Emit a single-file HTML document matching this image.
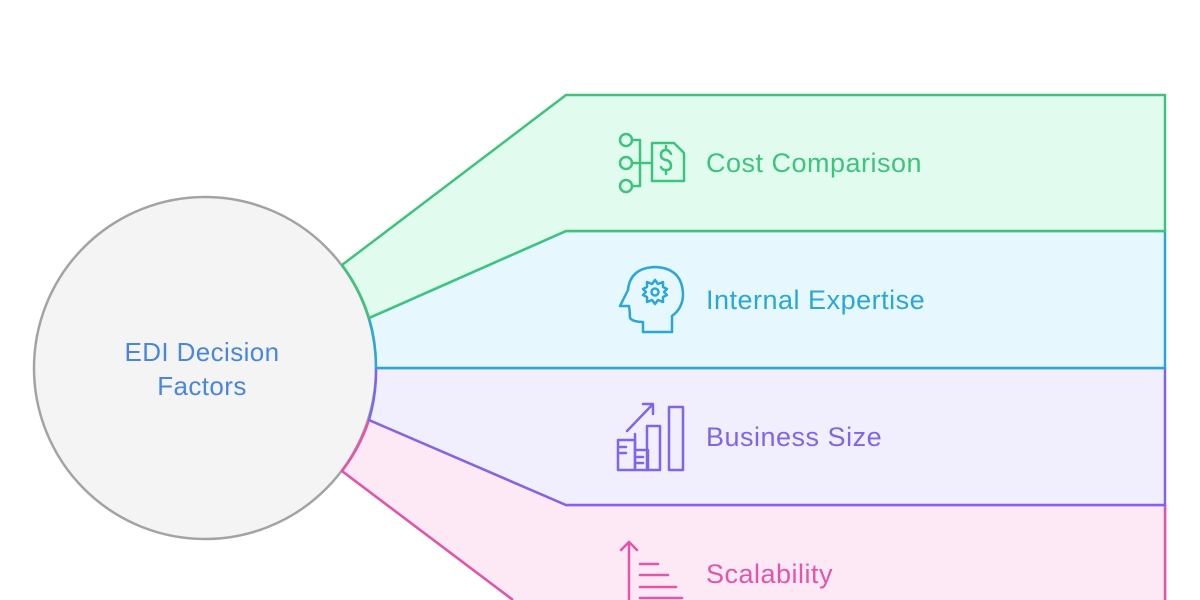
<!DOCTYPE html>
<html><head><meta charset="utf-8"><style>
html,body{margin:0;padding:0;background:#fff;width:1200px;height:600px;overflow:hidden;}
svg{display:block;}
text{font-family:"Liberation Sans",sans-serif;}
</style></head><body>
<svg width="1200" height="600" viewBox="0 0 1200 600" xmlns="http://www.w3.org/2000/svg">
<circle cx="205" cy="368" r="171" fill="#f4f4f4" stroke="#a3a3a3" stroke-width="2.5"/>
<!-- pink -->
<path d="M369,420 L566,505 L1165,505 L1165,600 M513,600 L342,471 A171 171 0 0 0 369,420" fill="none" stroke="#e255a8" stroke-width="2.5" stroke-linejoin="round"/>
<path d="M369,420 L566,505 L1165,505 L1165,600 L513,600 L342,471 A171 171 0 0 0 369,420 Z" fill="#fde8f6" stroke="none"/>
<path d="M369,420 L566,505 L1165,505 L1165,600 M513,600 L342,471 A171 171 0 0 0 369,420" fill="none" stroke="#e255a8" stroke-width="2.5" stroke-linejoin="round"/>
<!-- purple -->
<path d="M376,368 L1165,368 L1165,505 L566,505 L369,420 A171 171 0 0 0 376,368 Z" fill="#f1effe" stroke="#7f66e8" stroke-width="2.5" stroke-linejoin="round"/>
<!-- blue -->
<path d="M369,318 L566,231 L1165,231 L1165,368 L376,368 A171 171 0 0 0 369,318 Z" fill="#e6f7fd" stroke="#2aa7d8" stroke-width="2.5" stroke-linejoin="round"/>
<!-- green -->
<path d="M342,265 L566,95 L1165,95 L1165,231 L566,231 L369,318 A171 171 0 0 0 342,265 Z" fill="#e1fcee" stroke="#3cc47c" stroke-width="2.5" stroke-linejoin="round"/>

<text x="202" y="361" font-size="26" fill="#4a86e0" text-anchor="middle" letter-spacing="0.4">EDI Decision</text>
<text x="202" y="395" font-size="26" fill="#4a86e0" text-anchor="middle" letter-spacing="0.4">Factors</text>

<text x="706" y="172" font-size="27" fill="#3cc47c" letter-spacing="0.5">Cost Comparison</text>
<text x="706" y="309" font-size="27" fill="#2aa7d8" letter-spacing="0.5">Internal Expertise</text>
<text x="706" y="446" font-size="27" fill="#7f66e8" letter-spacing="0.5">Business Size</text>
<text x="706" y="583" font-size="27" fill="#e255a8" letter-spacing="0.5">Scalability</text>

<!-- cost icon -->
<g fill="none" stroke="#3cc47c" stroke-width="2.5" stroke-linecap="round" stroke-linejoin="round">
<circle cx="626" cy="140" r="6"/><circle cx="626" cy="163" r="6"/><circle cx="626" cy="186" r="6"/>
<path d="M632,140 H640 V186 H632 M632,163 H652"/>
<path d="M652,143 H674 L684,153 V181 H652 Z"/>
<path d="M671,154 Q669,150 666,150 Q661,150 661,155 Q661,159 666,160 Q671,161 671,166 Q671,170 666,170 Q662,170 661,167 M666,146 V150 M666,170 V174"/>
</g>
<!-- head icon -->
<g fill="none" stroke="#2aa7d8" stroke-width="2.5" stroke-linejoin="round">
<path d="M643,332 V322 Q633,322 630,318 Q630,312 629,306 L620,306 L628,290 Q630,268 655,267 Q682,268 683,294 Q683,308 672,316 V332 Z"/>
<circle cx="655" cy="292" r="3.5"/>
<path d="M655,280 l3,4 5,-2 0,5 4,2 -3,3 3,3 -4,2 0,5 -5,-2 -3,4 -3,-4 -5,2 0,-5 -4,-2 3,-3 -3,-3 4,-2 0,-5 5,2 z"/>
</g>
<!-- business icon -->
<g fill="none" stroke="#7f66e8" stroke-width="2.5" stroke-linecap="round" stroke-linejoin="round">
<rect x="618" y="440" width="17" height="30"/><rect x="635" y="450" width="13" height="20"/>
<rect x="647" y="426" width="13" height="44"/><rect x="669" y="407" width="14" height="63"/>
<path d="M620,447 H626 M620,453 H626 M637,457 H643 M637,463 H643 M635,434 V450"/>
<path d="M627,431 L653,404 M643,404 H653 V414"/>
</g>
<!-- scalability icon -->
<g fill="none" stroke="#e255a8" stroke-width="2.5" stroke-linecap="round" stroke-linejoin="round">
<path d="M629,599 V543 M621,550 L629,542 L637,550"/>
<path d="M640,564 H658 M640,575 H668 M640,587 H676 M640,598 H682"/>
</g>
</svg>
</body></html>
